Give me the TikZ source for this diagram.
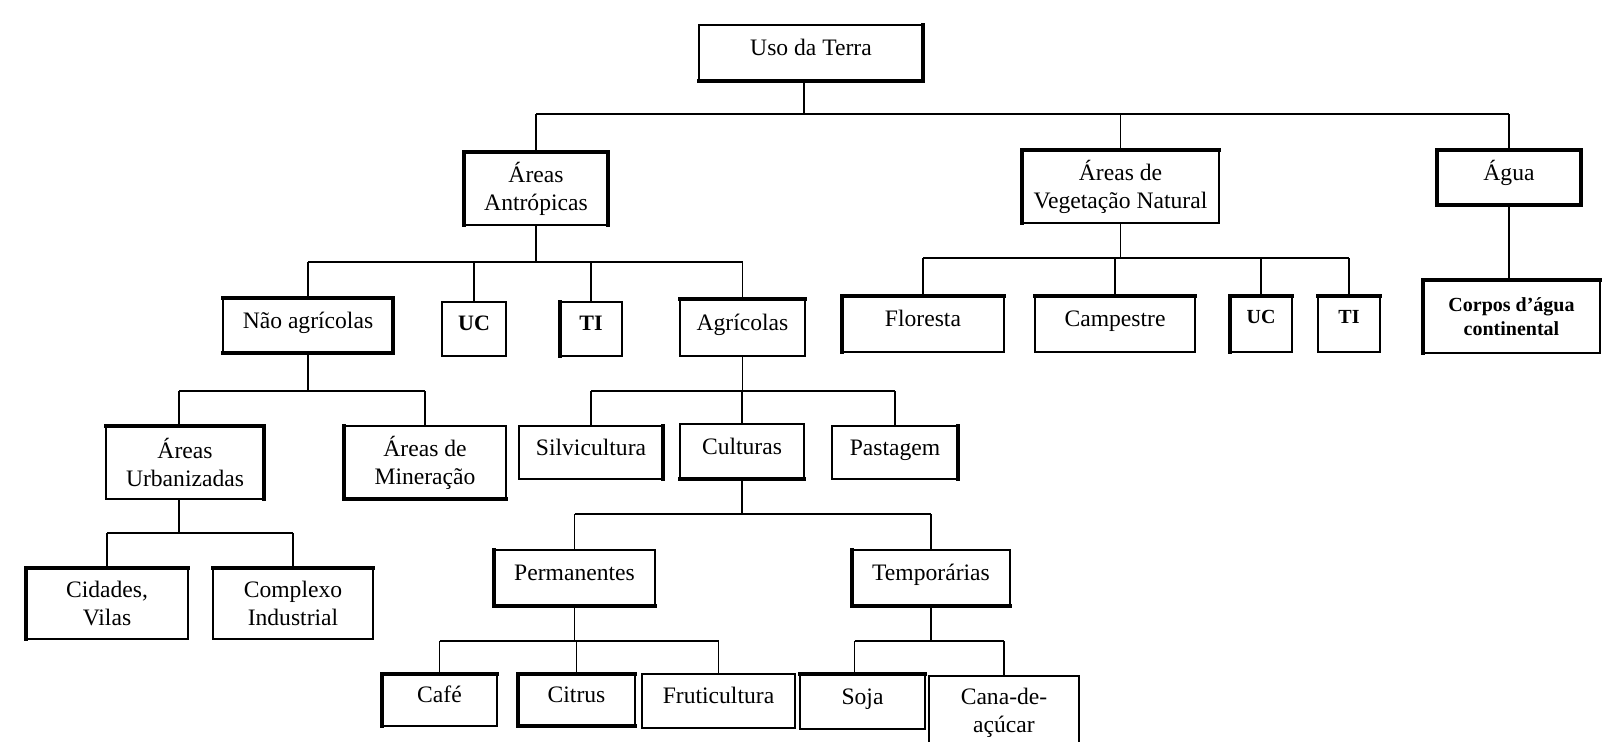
\documentclass[tikz,border=0pt]{standalone}
\usepackage{fontspec}
\setmainfont{Liberation Serif}
\tikzset{
  box/.style={draw, line width=0.75pt, rectangle, inner sep=0pt, outer sep=0pt, align=center,
    font=\fontsize{11.8}{14}\selectfont},
  one/.style={text height=9pt, text depth=6pt},
  smallb/.style={font=\fontsize{11}{13}\selectfont\bfseries, text height=8pt, text depth=6.8pt},
  tinyb/.style={font=\fontsize{10}{12}\selectfont\bfseries, text height=7pt, text depth=7.5pt},
  corpb/.style={font=\fontsize{10}{12}\selectfont\bfseries},
  conn/.style={line width=0.7pt},
  thk/.style={line width=1.8pt, line cap=rect},
}
\newcommand\bx[7][]{\node[box,#1,minimum width={(#5-#3)*0.5pt},minimum height={(#6-#4)*0.5pt}] (#2) at ({(#3+#5)/2},{(#4+#6)/2}) {#7};}
\newcommand\sideT[1]{\draw[thk] (#1.north west) -- (#1.north east);}
\newcommand\sideB[1]{\draw[thk] (#1.south west) -- (#1.south east);}
\newcommand\sideL[1]{\draw[thk] (#1.north west) -- (#1.south west);}
\newcommand\sideR[1]{\draw[thk] (#1.north east) -- (#1.south east);}
\begin{document}
\begin{tikzpicture}[x=0.5pt,y=-0.5pt]
\fill[white] (0,0) rectangle (1602,742);
\useasboundingbox (0,0) rectangle (1602,742);

% boxes
\bx[one]{uso}{699}{25}{923}{81}{Uso da Terra}
\bx{antr}{464}{152}{608}{225}{Áreas\\Antrópicas}
\bx{veg}{1022}{150}{1219}{223}{Áreas de\\Vegetação Natural}
\bx[one]{agua}{1437}{150}{1581}{205}{Água}
\bx[one]{nagr}{223}{298}{393}{353}{Não agrícolas}
\bx[smallb]{ucA}{442}{302}{506}{356}{UC}
\bx[smallb]{tiA}{560}{302}{622}{356}{TI}
\bx[one]{agr}{680}{299}{805}{356}{Agrícolas}
\bx[one]{flor}{842}{296}{1004}{352}{Floresta}
\bx[one]{camp}{1035}{296}{1195}{352}{Campestre}
\bx[tinyb]{ucB}{1230}{296}{1292}{352}{UC}
\bx[tinyb]{tiB}{1318}{296}{1380}{352}{TI}
\bx[corpb]{corp}{1423}{280}{1600}{353}{Corpos d’água\\continental}
\bx{urb}{106}{426}{264}{499}{Áreas\\Urbanizadas}
\bx{mine}{344}{426}{506}{499}{Áreas de\\Mineração}
\bx[one]{silv}{519}{426}{663}{479}{Silvicultura}
\bx[one]{cult}{680}{424}{804}{479}{Culturas}
\bx[one]{past}{832}{426}{958}{479}{Pastagem}
\bx[one]{perm}{494}{550}{655}{606}{Permanentes}
\bx[one]{temp}{852}{550}{1010}{606}{Temporárias}
\bx{cid}{26}{568}{188}{639}{Cidades,\\Vilas}
\bx{comp}{213}{568}{373}{639}{Complexo\\Industrial}
\bx[one]{cafe}{382}{674}{497}{726}{Café}
\bx[one]{citr}{518}{674}{635}{726}{Citrus}
\bx[one]{frut}{642}{674}{795}{728}{Fruticultura}
\bx[one]{soja}{800}{674}{925}{729}{Soja}
\bx{cana}{929}{676}{1079}{750}{Cana-de-\\açúcar}

% thick sides
\sideR{uso}\sideB{uso}
\sideT{antr}\sideL{antr}\sideR{antr}
\sideT{veg}\sideL{veg}
\sideT{agua}\sideL{agua}\sideR{agua}\sideB{agua}
\sideT{nagr}\sideR{nagr}\sideB{nagr}
\sideL{tiA}
\sideT{agr}
\sideT{flor}\sideL{flor}
\sideT{camp}
\sideT{ucB}\sideL{ucB}
\sideT{tiB}
\sideT{corp}\sideL{corp}
\sideT{urb}\sideR{urb}
\sideL{mine}\sideB{mine}
\sideR{silv}
\sideB{cult}
\sideR{past}
\sideL{perm}\sideB{perm}
\sideL{temp}\sideB{temp}
\sideT{cid}\sideL{cid}
\sideT{comp}
\sideT{cafe}\sideL{cafe}
\sideT{citr}\sideL{citr}\sideB{citr}
\sideT{soja}

% connector levels
\coordinate (lv1) at (0,114);
\coordinate (lv2) at (0,262);
\coordinate (lv3) at (0,258);
\coordinate (lv4) at (0,391);
\coordinate (lv5) at (0,533);
\coordinate (lv6) at (0,514);
\coordinate (lv7) at (0,641);

% Uso da Terra
\draw[conn] ([xshift=-3.5pt]uso.south) -- ([xshift=-3.5pt]uso.south |- lv1);
\draw[conn] (antr.north |- lv1) -- (agua.north |- lv1);
\foreach \n in {antr,veg,agua} \draw[conn] (\n.north) -- (\n.north |- lv1);

% Areas Antropicas
\draw[conn] (antr.south) -- (antr.south |- lv2);
\draw[conn] (nagr.north |- lv2) -- (agr.north |- lv2);
\foreach \n in {nagr,ucA,tiA,agr} \draw[conn] (\n.north) -- (\n.north |- lv2);

% Vegetacao Natural
\draw[conn] (veg.south) -- (veg.south |- lv3);
\draw[conn] (flor.north |- lv3) -- (tiB.north |- lv3);
\foreach \n in {flor,camp,ucB,tiB} \draw[conn] (\n.north) -- (\n.north |- lv3);

% Agua
\draw[conn] (agua.south) -- (agua.south |- corp.north);

% Nao agricolas
\draw[conn] (nagr.south) -- (nagr.south |- lv4);
\draw[conn] ([xshift=-3pt]urb.north |- lv4) -- (mine.north |- lv4);
\draw[conn] ([xshift=-3pt]urb.north) -- ([xshift=-3pt]urb.north |- lv4);
\draw[conn] (mine.north) -- (mine.north |- lv4);

% Agricolas
\draw[conn] (agr.south) -- (agr.south |- lv4);
\draw[conn] (silv.north |- lv4) -- (past.north |- lv4);
\foreach \n in {silv,cult,past} \draw[conn] (\n.north) -- (\n.north |- lv4);

% Areas Urbanizadas
\draw[conn] ([xshift=-3pt]urb.south) -- ([xshift=-3pt]urb.south |- lv5);
\draw[conn] (cid.north |- lv5) -- (comp.north |- lv5);
\foreach \n in {cid,comp} \draw[conn] (\n.north) -- (\n.north |- lv5);

% Culturas
\draw[conn] (cult.south) -- (cult.south |- lv6);
\draw[conn] (perm.north |- lv6) -- (temp.north |- lv6);
\foreach \n in {perm,temp} \draw[conn] (\n.north) -- (\n.north |- lv6);

% Permanentes
\draw[conn] (perm.south) -- (perm.south |- lv7);
\draw[conn] (cafe.north |- lv7) -- (frut.north |- lv7);
\foreach \n in {cafe,citr,frut} \draw[conn] (\n.north) -- (\n.north |- lv7);

% Temporarias
\draw[conn] (temp.south) -- (temp.south |- lv7);
\draw[conn] ([xshift=-4pt]soja.north |- lv7) -- (cana.north |- lv7);
\draw[conn] ([xshift=-4pt]soja.north) -- ([xshift=-4pt]soja.north |- lv7);
\draw[conn] (cana.north) -- (cana.north |- lv7);
\end{tikzpicture}
\end{document}
